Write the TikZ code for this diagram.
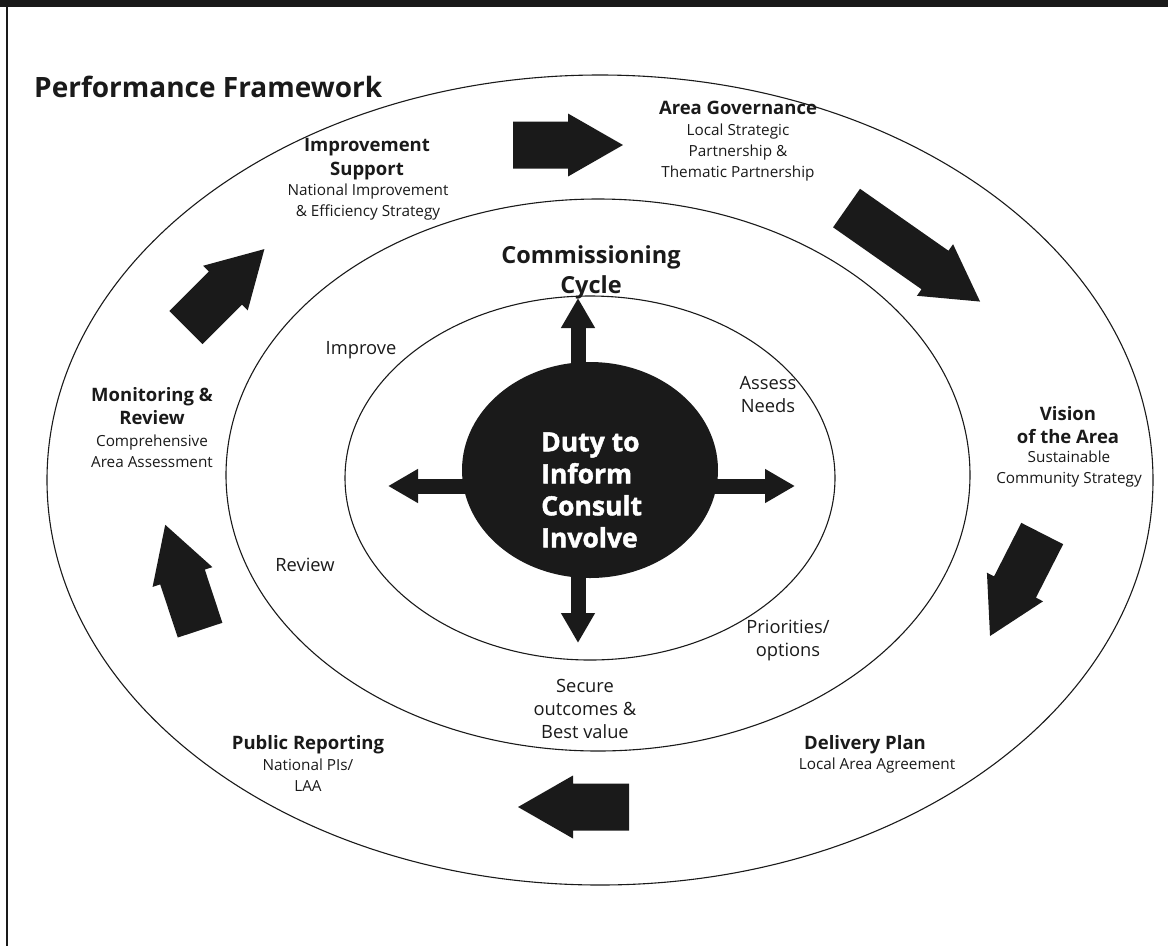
\documentclass[tikz,border=0pt]{standalone}
\usepackage{fontspec}
\setmainfont{Open Sans}
\newfontfamily\heavyfont{Open Sans}[BoldFeatures={FakeBold=1.6}]
\usetikzlibrary{arrows.meta,shapes.geometric}
\definecolor{ink}{HTML}{1A1A1A}
\begin{document}
\begin{tikzpicture}[x=1pt,y=-1pt,
  ring/.style={draw=ink,line width=1.1pt},
  head/.style={font=\bfseries\fontsize{18.5}{23.5}\selectfont,align=center,text=ink,inner sep=0pt},
  sub/.style={font=\fontsize{15.3}{21}\selectfont,align=center,text=ink,inner sep=0pt},
  cyc/.style={font=\fontsize{18.3}{23}\selectfont,align=center,text=ink,inner sep=0pt},
  spoke/.style={line width=15pt,draw=ink,-{Triangle[length=30pt,width=32pt]}},
  pics/blockarrow/.style={code={\fill[ink] (-#1,-23.5) -- (0,-23.5) -- (0,-31.5) -- (55,0) -- (0,31.5) -- (0,23.5) -- (-#1,23.5) -- cycle;}},
]
\useasboundingbox (0,0) rectangle (1168,946);
% frame
\fill[ink] (0,0) rectangle (1168,7);
\draw[ink,line width=1.5pt] (7,7) -- (7,946);
% rings
\draw[ring] (600,480) ellipse [x radius=553, y radius=405];
\draw[ring] (598,475) ellipse [x radius=372, y radius=276];
\draw[ring] (590,478) ellipse [x radius=245, y radius=182];
% centre
\node[ellipse,fill=ink,minimum width=256pt,minimum height=216pt,inner sep=0pt] (duty) at (590,470) {};
\coordinate (tipU) at (578,298);
\coordinate (tipD) at (578,643);
\coordinate (tipL) at (388,486);
\coordinate (tipR) at (795,486);
\draw[spoke] (tipU |- duty.center) -- (tipU);
\draw[spoke] (tipD |- duty.center) -- (tipD);
\draw[spoke] (tipL -| duty.center) -- (tipL);
\draw[spoke] (tipR -| duty.center) -- (tipR);
\node[anchor=west,align=left,text=white,inner sep=0pt,font=\heavyfont\bfseries\fontsize{26.5}{32}\selectfont] (dutytext) at (541,490) {Duty to\\Inform\\Consult\\Involve};
% big arrows (origin = base of the head)
\pic at (568,145) {blockarrow=55};
\pic[rotate=-35] at (935,270) {blockarrow=108};
\pic[rotate=-117] at (1015,587) {blockarrow=60};
\pic[rotate=180] at (573,807) {blockarrow=56};
\pic[rotate=108.3] at (182.5,577) {blockarrow=56};
\pic[rotate=45] at (225.5,288) {blockarrow=56};
% title
\node[anchor=west,inner sep=0pt,text=ink,font=\bfseries\fontsize{28}{32}\selectfont] (title) at (34,87) {Performance Framework};
% outer labels
\node[head] (imph) at (367,159) {Improvement\\Support};
\node[sub] (imps) at (368,202.5) {National Improvement\\\& Efficiency Strategy};
\node[head] (areah) at (738,108) {Area Governance};
\node[sub] (areas) at (738,152.5) {Local Strategic\\Partnership \&\\Thematic Partnership};
\node[head] (vish) at (1068,425) {Vision\\of the Area};
\node[sub] (viss) at (1069,469) {Sustainable\\Community Strategy};
\node[head] (delh) at (865,745) {Delivery Plan};
\node[sub] (dels) at (877,766) {Local Area Agreement};
\node[head] (pubh) at (308,745) {Public Reporting};
\node[sub] (pubs) at (308,775.5) {National PIs/\\LAA};
\node[head] (monh) at (152,406) {Monitoring \&\\Review};
\node[sub] (mons) at (152,451) {Comprehensive\\Area Assessment};
% cycle labels
\node[font=\bfseries\fontsize{23.5}{30}\selectfont,align=center,text=ink,inner sep=0pt] (comm) at (591,272) {Commissioning\\Cycle};
\node[cyc] (improve) at (361,350) {Improve};
\node[cyc] (assess) at (768,395) {Assess\\Needs};
\node[cyc] (prio) at (788,640) {Priorities/\\options};
\node[cyc] (secure) at (585,709) {Secure\\outcomes \&\\Best value};
\node[cyc] (review) at (305,565) {Review};
\end{tikzpicture}
\end{document}
